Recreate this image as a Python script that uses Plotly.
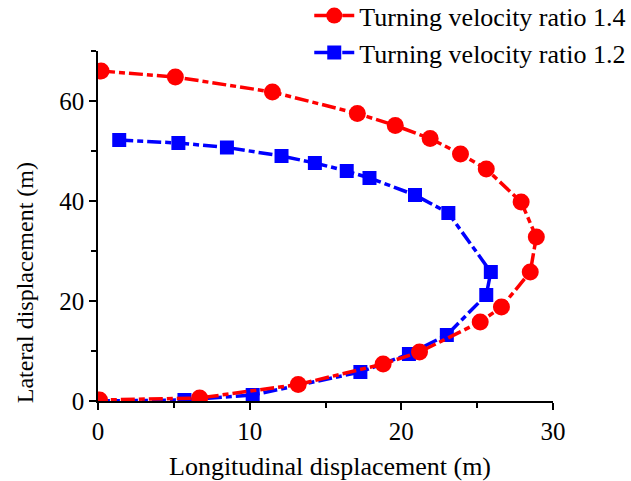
import plotly.graph_objects as go

# Turning velocity ratio 1.4 (red circles)
x_14 = [0.2, 5.1, 11.5, 17.1, 19.6, 21.9, 23.9, 25.6, 27.9, 28.9, 28.5, 26.6, 25.2, 21.2, 18.8, 13.2, 6.7, 0.1]
y_14 = [66.0, 64.8, 61.8, 57.5, 55.1, 52.5, 49.4, 46.4, 39.8, 32.8, 25.8, 18.8, 15.8, 9.8, 7.4, 3.3, 0.6, 0.2]

# Turning velocity ratio 1.2 (blue squares)
x_12 = [1.4, 5.3, 8.5, 12.1, 14.3, 16.4, 17.9, 20.9, 23.1, 25.9, 25.6, 23.0, 20.5, 17.3, 10.2, 5.7, 0.0]
y_12 = [52.2, 51.6, 50.7, 49.0, 47.6, 46.0, 44.6, 41.2, 37.6, 25.8, 21.2, 13.2, 9.4, 5.8, 1.2, 0.2, 0.0]

series_names = ["Turning velocity ratio 1.4", "Turning velocity ratio 1.2"]
x_ticks = [0, 10, 20, 30]
y_ticks = [0, 20, 40, 60]

FONT = "Liberation Serif, Times New Roman, serif"
DASH = "14px,4px,6px,4px"

fig = go.Figure()
fig.add_trace(go.Scatter(
    x=x_12, y=y_12, mode="lines+markers", name=series_names[1],
    line=dict(color="#0000ff", width=3.5, dash=DASH),
    marker=dict(symbol="square", size=14, color="#0000ff"),
))
fig.add_trace(go.Scatter(
    x=x_14, y=y_14, mode="lines+markers", name=series_names[0],
    line=dict(color="#ff0000", width=3.5, dash=DASH),
    marker=dict(symbol="circle", size=17, color="#ff0000"),
))

axis_common = dict(
    showline=True, linecolor="black", linewidth=1.5,
    showgrid=False, zeroline=False,
    ticks="outside", ticklen=7, tickwidth=1.5, tickcolor="black",
    tickfont=dict(family=FONT, size=25, color="black"),
    minor=dict(ticks="outside", ticklen=5, tickwidth=1.5, tickcolor="black", showgrid=False),
)

fig.update_xaxes(range=[0, 30], tickvals=x_ticks, minor_dtick=5, **axis_common)
fig.update_yaxes(range=[0, 70], tickvals=y_ticks, minor_dtick=10, **axis_common)

fig.update_layout(
    width=631, height=481,
    margin=dict(l=98, r=78, t=51, b=80, autoexpand=False),
    plot_bgcolor="white", paper_bgcolor="white",
    font=dict(family=FONT, color="black"),
    showlegend=True,
    legend=dict(
        traceorder="reversed",
        x=1.172, y=1.168, xref="paper", yref="paper",
        xanchor="right", yanchor="top",
        font=dict(family=FONT, size=26, color="black"),
        bgcolor="rgba(0,0,0,0)", itemwidth=40,
        tracegroupgap=0,
    ),
    annotations=[
        dict(text="Longitudinal displacement (m)", xref="paper", yref="paper",
             x=0.51, y=-0.186, xanchor="center", yanchor="middle", showarrow=False,
             font=dict(family=FONT, size=26, color="black")),
        dict(text="Lateral displacement (m)", xref="paper", yref="paper",
             x=-0.16, y=0.337, xanchor="center", yanchor="middle", showarrow=False,
             textangle=-90, font=dict(family=FONT, size=24, color="black")),
    ],
)

fig.write_html("out.html")
